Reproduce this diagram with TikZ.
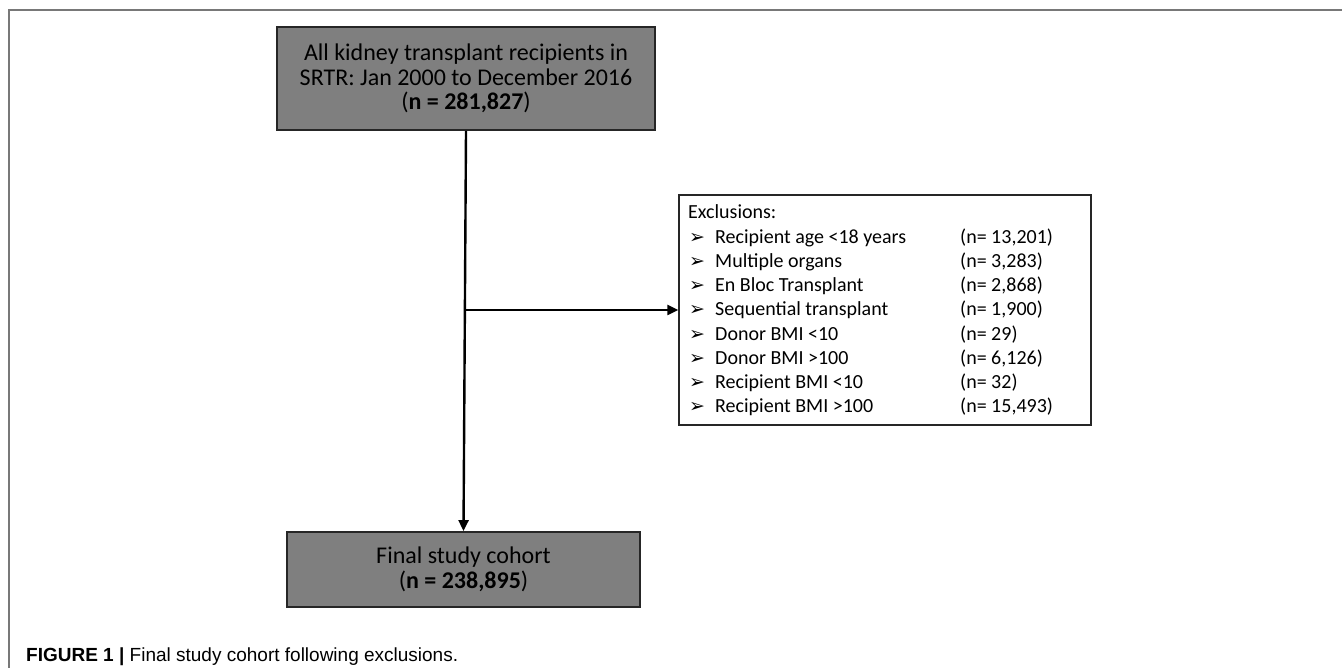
\documentclass[tikz,border=0pt]{standalone}
\usepackage{fontspec}
\setmainfont{Carlito}
\newfontfamily\capfont{Liberation Sans}
\newfontfamily\dingfont{DejaVu Sans}
\usetikzlibrary{arrows.meta}
\definecolor{boxgray}{RGB}{127,127,127}
\definecolor{framegray}{RGB}{120,120,120}
\tikzset{
  graybox/.style={draw=black!85, line width=1.8pt, fill=boxgray, align=center, inner sep=0pt,
    font=\fontsize{24}{24.5}\selectfont},
  exbox/.style={draw=black!85, line width=1.5pt, fill=white, inner sep=0pt, minimum width=412pt, minimum height=230pt},
  extext/.style={anchor=base west, inner sep=0pt, font=\fontsize{20}{22}\selectfont},
  bullet/.style={anchor=base west, inner sep=0pt, font=\dingfont\fontsize{19}{20}\selectfont},
  flow/.style={line width=2.4pt, -{Triangle[length=11pt,width=10pt]}},
  frame/.style={draw=framegray, line width=1.5pt}
}
\begin{document}
\begin{tikzpicture}[x=1pt,y=-1pt]
\useasboundingbox (0,0) rectangle (1342,668);
\draw[frame] (1342,10) -- (9,10) -- (9,668);
\node[graybox, minimum width=378pt, minimum height=103pt] (top) at (466,78.5)
  {All kidney transplant recipients in\\SRTR: Jan 2000 to December 2016\\(\textbf{n = 281,827})};
\node[graybox, minimum width=353pt, minimum height=75pt] (bot) at (463.5,569.5)
  {Final study cohort\\(\textbf{n = 238,895})};
\node[exbox] (excl) at (885,310) {};
\coordinate (junc) at (top.south |- excl.west);
\draw[flow] (top.south) -- (bot.north);
\draw[flow] (junc) -- (excl.west);
\node[extext] (ex0) at (688,219) {Exclusions:};
\foreach \i/\lab/\cnt in {1/Recipient age <18 years/{(n= 13,201)},
                          2/Multiple organs/{(n= 3,283)},
                          3/En Bloc Transplant/{(n= 2,868)},
                          4/Sequential transplant/{(n= 1,900)},
                          5/Donor BMI <10/{(n= 29)},
                          6/Donor BMI >100/{(n= 6,126)},
                          7/Recipient BMI <10/{(n= 32)},
                          8/Recipient BMI >100/{(n= 15,493)}}{
  \node[bullet] (b\i) at (689,219+24.25*\i) {➢};
  \node[extext] (l\i) at (715,219+24.25*\i) {\lab};
  \node[extext] (c\i) at (960,219+24.25*\i) {\cnt};
}
\node[anchor=base west, inner sep=0pt, font=\capfont\fontsize{19}{20}\selectfont] (cap) at (26,661)
  {\textbf{FIGURE 1 |} Final study cohort following exclusions.};
\end{tikzpicture}
\end{document}
